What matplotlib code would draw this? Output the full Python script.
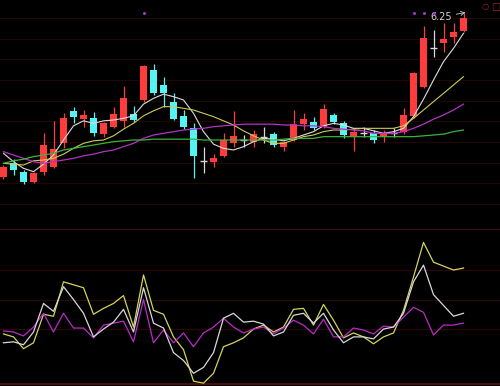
import matplotlib
matplotlib.use('Agg')
import matplotlib.pyplot as plt
import numpy as np

# daily candles, left to right
opens = [4.28, 4.44, 4.34, 4.22, 4.34, 4.40, 4.68, 5.07, 4.97, 4.98,
         4.79, 4.88, 4.95, 5.03, 5.20, 5.56, 5.38, 5.18, 5.01, 4.86,
         4.47, 4.46, 4.53, 4.68, 4.72, 4.70, 4.76, 4.79, 4.64, 4.72,
         4.91, 4.94, 4.88, 5.02, 4.92, 4.77, 4.80, 4.80, 4.76, 4.80,
         4.82, 5.01, 5.36, 5.82, 5.88, 5.96, 6.03]
highs = [4.42, 4.49, 4.36, 4.34, 4.80, 4.95, 5.04, 5.12, 5.08, 5.06,
         4.94, 5.12, 5.37, 5.13, 5.62, 5.63, 5.48, 5.28, 5.08, 4.92,
         4.64, 4.55, 4.80, 5.07, 4.78, 4.84, 4.88, 4.82, 4.71, 5.08,
         5.04, 5.00, 5.15, 5.04, 4.95, 4.86, 4.88, 4.84, 4.84, 4.86,
         5.10, 5.54, 6.09, 6.04, 6.12, 6.12, 6.25]
lows = [4.25, 4.30, 4.19, 4.20, 4.30, 4.38, 4.62, 4.92, 4.88, 4.77,
        4.76, 4.86, 4.88, 4.94, 5.18, 5.26, 5.12, 4.96, 4.85, 4.26,
        4.32, 4.40, 4.52, 4.64, 4.64, 4.64, 4.68, 4.64, 4.59, 4.71,
        4.84, 4.84, 4.86, 4.91, 4.74, 4.59, 4.76, 4.68, 4.70, 4.76,
        4.79, 4.98, 5.34, 5.72, 5.78, 5.88, 6.02]
closes = [4.40, 4.36, 4.22, 4.32, 4.66, 4.61, 4.98, 5.00, 5.02, 4.80,
          4.92, 5.03, 5.22, 4.96, 5.61, 5.28, 5.28, 4.97, 4.88, 4.53,
          4.47, 4.50, 4.72, 4.77, 4.72, 4.79, 4.76, 4.66, 4.70, 4.91,
          4.97, 4.86, 5.09, 4.94, 4.78, 4.82, 4.80, 4.72, 4.80, 4.80,
          5.02, 5.52, 5.94, 5.82, 5.93, 6.02, 6.18]

# moving averages as drawn on the chart
ma5 = [4.56, 4.46, 4.38, 4.34, 4.43, 4.54, 4.72, 4.89, 4.95, 4.92,
       4.95, 4.96, 4.98, 5.01, 5.15, 5.22, 5.27, 5.24, 5.20, 5.04,
       4.82, 4.67, 4.62, 4.60, 4.64, 4.70, 4.74, 4.73, 4.71, 4.74,
       4.78, 4.82, 4.89, 4.92, 4.90, 4.86, 4.86, 4.83, 4.80, 4.82,
       4.86, 5.00, 5.21, 5.44, 5.66, 5.82, 6.00]
ma10 = [4.44, 4.43, 4.42, 4.47, 4.48, 4.50, 4.55, 4.62, 4.68, 4.71,
        4.72, 4.77, 4.85, 4.92, 5.01, 5.07, 5.12, 5.12, 5.10, 5.08,
        5.04, 5.00, 4.95, 4.90, 4.83, 4.77, 4.72, 4.68, 4.68, 4.72,
        4.76, 4.78, 4.82, 4.84, 4.84, 4.85, 4.86, 4.86, 4.86, 4.86,
        4.89, 4.98, 5.08, 5.18, 5.28, 5.38, 5.48]
ma20 = [4.58, 4.54, 4.50, 4.46, 4.44, 4.46, 4.48, 4.50, 4.53, 4.55,
        4.58, 4.60, 4.64, 4.68, 4.74, 4.78, 4.80, 4.82, 4.84, 4.85,
        4.86, 4.88, 4.89, 4.90, 4.91, 4.91, 4.91, 4.91, 4.90, 4.90,
        4.89, 4.89, 4.88, 4.86, 4.85, 4.84, 4.83, 4.80, 4.80, 4.80,
        4.82, 4.86, 4.91, 4.97, 5.02, 5.08, 5.15]
ma60 = [4.44, 4.47, 4.49, 4.52, 4.54, 4.56, 4.60, 4.62, 4.64, 4.66,
        4.68, 4.70, 4.71, 4.72, 4.72, 4.73, 4.73, 4.73, 4.73, 4.73,
        4.72, 4.72, 4.72, 4.72, 4.72, 4.72, 4.72, 4.72, 4.73, 4.74,
        4.74, 4.74, 4.76, 4.76, 4.76, 4.76, 4.76, 4.76, 4.76, 4.76,
        4.76, 4.76, 4.77, 4.78, 4.79, 4.82, 4.84]

# lower panel indicator
k_line = [6, 7, 4, 17, 46, 38, 63, 50, 36, 12,
          20, 27, 40, 17, 62, 26, 21, -4, -12, -25,
          -19, -4, 31, 36, 27, 28, 25, 13, 17, 34,
          36, 26, 36, 19, 6, 12, 12, 10, 20, 22,
          36, 68, 85, 55, 44, 33, 36]
d_line = [18, 17, 13, 22, 36, 17, 36, 21, 21, 11,
          24, 26, 28, 7, 50, 6, 19, 6, 16, 2,
          16, 22, 31, 22, 16, 20, 22, 15, 21, 29,
          24, 15, 30, 12, 12, 21, 19, 15, 23, 22,
          32, 42, 37, 14, 24, 24, 26]
j_line = [15, 12, 0, 6, 35, 33, 68, 65, 62, 35,
          41, 46, 54, 22, 75, 39, 35, 12, -1, -33,
          -35, -25, 2, 6, 11, 20, 24, 17, 22, 40,
          41, 24, 45, 29, 11, 16, 12, 5, 12, 16,
          39, 73, 108, 88, 84, 80, 82]
osc_levels = [20, 50, 80]

signal_days = [14, 41, 42, 43]

UP = '#ff3c3c'
DOWN = '#54f4f4'
FLAT = '#d8d8d8'
GRID = '#220606'
GRID2 = '#2c0808'
EDGE = '#5a1212'


def drawCandles(ax):
    for i in range(len(opens)):
        o, h, l, c = opens[i], highs[i], lows[i], closes[i]
        if c > o:
            color = UP
        elif c < o:
            color = DOWN
        else:
            color = FLAT
        ax.vlines(i, l, h, color=color, lw=0.9, zorder=3)
        if c == o:
            ax.hlines(o, i - 0.35, i + 0.35, color=color, lw=1.0, zorder=4)
        else:
            ax.bar(i, abs(c - o), 0.7, bottom=min(o, c), color=color, lw=0, zorder=4)


def cleanAxis(ax):
    ax.set_facecolor('black')
    ax.set_xticks([])
    ax.set_yticks([])
    for side in ['top', 'left', 'right']:
        ax.spines[side].set_visible(False)
    ax.spines['bottom'].set_color(EDGE)
    ax.spines['bottom'].set_linewidth(1.2)


fig = plt.figure(figsize=(5, 3.86), dpi=100, facecolor='black')
ax = fig.add_axes([0, 1 - 230 / 386, 1, 230 / 386])
ax2 = fig.add_axes([0, 2 / 386, 1, 154 / 386])
cleanAxis(ax)
cleanAxis(ax2)

x = np.arange(len(opens))
xlim = (-0.35, 49.65)

# price panel
for level in np.linspace(6.184, 3.952, 10):
    ax.axhline(level, color=GRID, lw=0.8, zorder=1)
drawCandles(ax)
ax.plot(x, ma5, color='#dedede', lw=0.8, zorder=5)
ax.plot(x, ma10, color='#cccc55', lw=0.8, zorder=5)
ax.plot(x, ma20, color='#b432c4', lw=0.9, zorder=5)
ax.plot(x, ma60, color='#3cb43c', lw=0.9, zorder=5)
ax.plot(signal_days, [6.24] * len(signal_days), 'o', color='#9c3cc8', ms=2.2, mew=0, zorder=6)

top = int(np.argmax(highs))
ax.annotate('%.2f' % highs[top], xy=(top + 0.2, highs[top]), xytext=(top - 3.3, 6.195),
            color='#d0d0d0', fontsize=7, ha='left', va='center',
            arrowprops=dict(arrowstyle='->', color='#d0d0d0', lw=0.6, shrinkA=1, shrinkB=0))
ax.set_xlim(xlim)
ax.set_ylim(3.64, 6.40)

# top-right buttons
fig.text(0.971, 0.982, '\u25cb', color='#a02020', fontsize=6, ha='center', va='center')
fig.text(0.991, 0.982, '\u25a1', color='#a02020', fontsize=7, ha='center', va='center')

# indicator panel
for level in osc_levels:
    ax2.axhline(level, color=GRID2, lw=0.9, zorder=1)
ax2.plot(x, j_line, color='#d4d45c', lw=0.9, zorder=3)
ax2.plot(x, k_line, color='#d8d8d8', lw=0.9, zorder=4)
ax2.plot(x, d_line, color='#b82cc4', lw=0.9, zorder=3)
ax2.set_xlim(xlim)
ax2.set_ylim(-35.9, 120.7)

plt.savefig('out.png', dpi=100, facecolor='black')
